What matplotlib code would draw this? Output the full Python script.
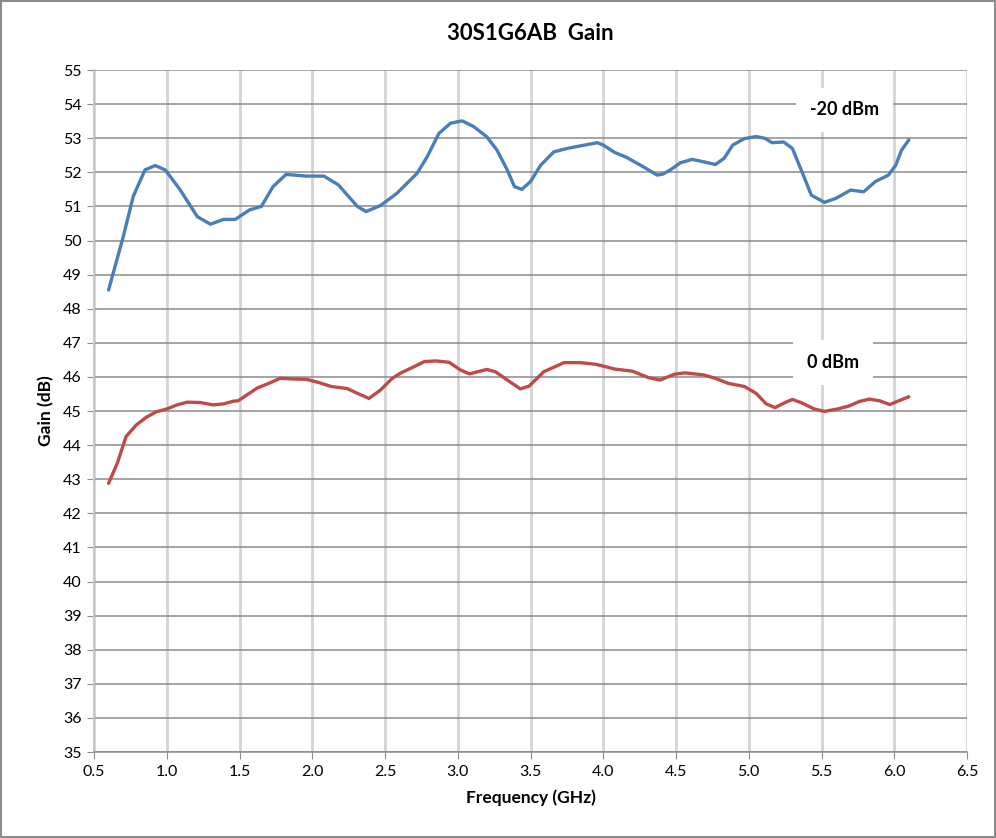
import matplotlib
matplotlib.use('Agg')
import matplotlib.pyplot as plt
from matplotlib.patches import Rectangle

# values
freq_m20 = [0.60, 0.70, 0.77, 0.85, 0.92, 0.99, 1.09, 1.21, 1.30, 1.39, 1.47, 1.57, 1.65,
            1.73, 1.82, 1.96, 2.08, 2.18, 2.31, 2.37, 2.47, 2.58, 2.72, 2.79, 2.87, 2.95,
            3.03, 3.11, 3.20, 3.27, 3.34, 3.39, 3.44, 3.50, 3.57, 3.66, 3.75, 3.86, 3.96,
            4.00, 4.08, 4.16, 4.28, 4.37, 4.41, 4.46, 4.53, 4.61, 4.69, 4.77, 4.83, 4.89,
            4.97, 5.05, 5.11, 5.16, 5.24, 5.30, 5.37, 5.43, 5.52, 5.60, 5.70, 5.79, 5.87,
            5.96, 6.01, 6.05, 6.10]
gain_m20 = [48.55, 50.10, 51.30, 52.07, 52.20, 52.07, 51.50, 50.70, 50.48, 50.62, 50.62, 50.90, 51.00,
            51.58, 51.94, 51.89, 51.89, 51.63, 51.00, 50.85, 51.03, 51.38, 51.97, 52.46, 53.14, 53.44,
            53.51, 53.34, 53.04, 52.65, 52.07, 51.58, 51.50, 51.73, 52.21, 52.60, 52.70, 52.79, 52.87,
            52.80, 52.58, 52.44, 52.15, 51.92, 51.95, 52.07, 52.28, 52.38, 52.31, 52.23, 52.41, 52.80,
            52.99, 53.05, 53.00, 52.87, 52.89, 52.70, 51.97, 51.33, 51.12, 51.24, 51.48, 51.43, 51.73,
            51.92, 52.21, 52.65, 52.95]

freq_0 = [0.60, 0.66, 0.72, 0.79, 0.86, 0.93, 1.00, 1.07, 1.14, 1.23, 1.32, 1.39, 1.46, 1.49,
          1.55, 1.62, 1.70, 1.78, 1.87, 1.96, 2.05, 2.13, 2.24, 2.31, 2.39, 2.47, 2.55, 2.61,
          2.69, 2.77, 2.85, 2.94, 3.02, 3.08, 3.20, 3.26, 3.34, 3.43, 3.49, 3.59, 3.73, 3.84,
          3.95, 4.08, 4.20, 4.31, 4.39, 4.49, 4.56, 4.69, 4.77, 4.86, 4.97, 5.05, 5.12, 5.18,
          5.25, 5.30, 5.37, 5.45, 5.52, 5.61, 5.69, 5.76, 5.83, 5.90, 5.97, 6.03, 6.10]
gain_0 = [42.88, 43.47, 44.25, 44.59, 44.82, 44.98, 45.06, 45.18, 45.26, 45.25, 45.18, 45.21, 45.29, 45.30,
          45.47, 45.67, 45.81, 45.96, 45.94, 45.93, 45.83, 45.72, 45.66, 45.52, 45.37, 45.62, 45.96, 46.12,
          46.28, 46.45, 46.47, 46.43, 46.20, 46.09, 46.22, 46.15, 45.91, 45.65, 45.73, 46.15, 46.42, 46.42,
          46.37, 46.23, 46.17, 45.98, 45.91, 46.08, 46.12, 46.06, 45.96, 45.81, 45.72, 45.52, 45.21, 45.10,
          45.25, 45.34, 45.23, 45.06, 44.99, 45.06, 45.15, 45.28, 45.35, 45.30, 45.19, 45.30, 45.42]

x_ticks = [0.5, 1.0, 1.5, 2.0, 2.5, 3.0, 3.5, 4.0, 4.5, 5.0, 5.5, 6.0, 6.5]
y_ticks = list(range(35, 56))

plt.rcParams['font.family'] = ['Lato', 'DejaVu Sans']

fig = plt.figure(figsize=(9.96, 8.38), dpi=100)
ax = fig.add_axes([0.0944, 0.1026, 0.8765, 0.8138])

ax.plot(freq_m20, gain_m20, color='#4a7ebb', linewidth=2.4,
        solid_capstyle='round', solid_joinstyle='round')
ax.plot(freq_0, gain_0, color='#be4b48', linewidth=2.4,
        solid_capstyle='round', solid_joinstyle='round')

ax.set_xlim(0.5, 6.5)
ax.set_ylim(35, 55)
ax.set_xticks(x_ticks)
ax.set_xticklabels([f'{v:.1f}' for v in x_ticks])
ax.set_yticks(y_ticks)

# Excel-like grid: dark thin horizontals, light thick verticals
ax.yaxis.grid(True, color='#8c8c8c', linewidth=1.1)
ax.xaxis.grid(True, color='#d4d4d4', linewidth=2.0)
ax.set_axisbelow(True)

for s in ['top', 'right']:
    ax.spines[s].set_visible(False)
ax.spines['left'].set_color('#c8c8c8')
ax.spines['left'].set_linewidth(1.5)
ax.spines['bottom'].set_color('#8c8c8c')
ax.spines['bottom'].set_linewidth(1.1)
ax.tick_params(axis='both', direction='out', length=5, color='#8c8c8c', labelsize=11.5, pad=4)

ax.text(5.66, 53.83, '-20 dBm', ha='center', va='center', fontsize=13, fontweight='bold',
        bbox=dict(facecolor='white', edgecolor='none', pad=10))
ax.text(5.58, 46.43, '0 dBm', ha='center', va='center', fontsize=13, fontweight='bold',
        bbox=dict(facecolor='white', edgecolor='none', pad=10))

ax.set_title('30S1G6AB  Gain', fontsize=16, fontweight='bold', pad=22)
ax.set_xlabel('Frequency (GHz)', fontsize=12.5, fontweight='bold', labelpad=8)
ax.set_ylabel('Gain (dB)', fontsize=12.5, fontweight='bold', labelpad=6)

fig.patches.append(Rectangle((0.001, 0.001), 0.998, 0.998, transform=fig.transFigure,
                             fill=False, edgecolor='#8c8c8c', linewidth=1.5))

fig.savefig('out.png', dpi=100)
